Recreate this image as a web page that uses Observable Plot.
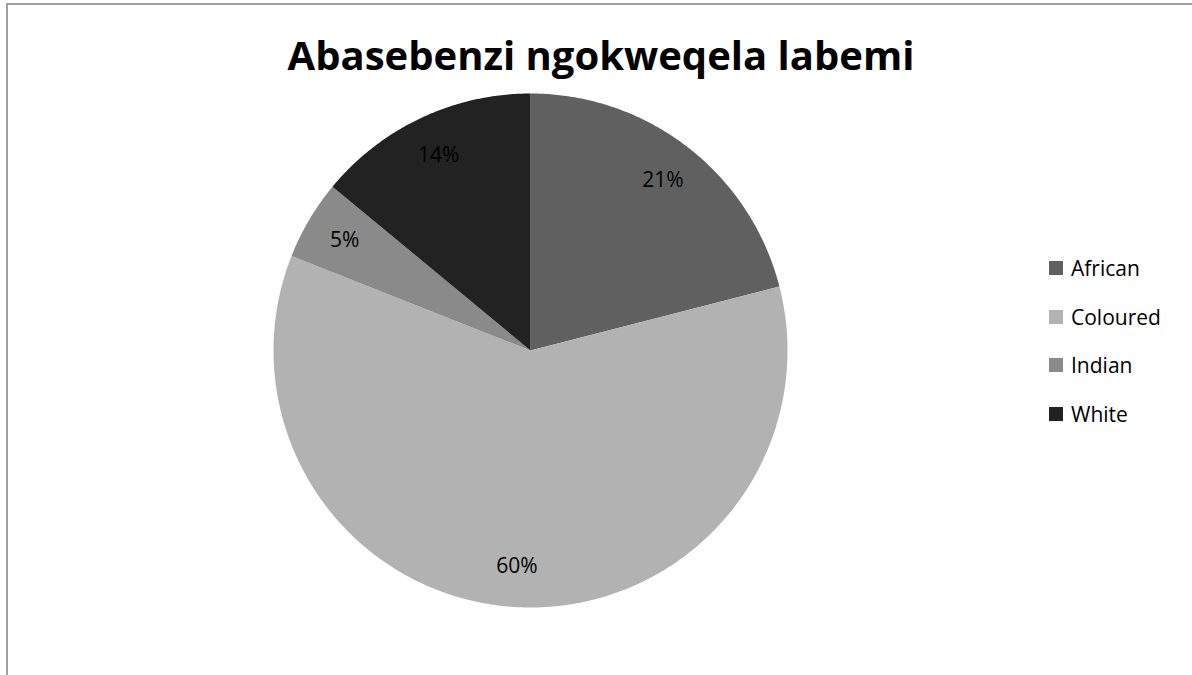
<!DOCTYPE html>
<html>
<head>
<meta charset="utf-8">
<script src="https://cdn.jsdelivr.net/npm/d3@7"></script>
<script src="https://cdn.jsdelivr.net/npm/@observablehq/plot@0.6"></script>
<style>
  html, body { margin: 0; padding: 0; background: #fff; overflow: hidden; }
  #wrap { position: relative; width: 1192px; height: 675px; overflow: hidden; font-family: "Open Sans", "Liberation Sans", sans-serif; }
  #frame { position: absolute; left: 6px; top: 3px; width: 1200px; height: 700px; border: 2px solid #a0a0a0; box-sizing: border-box; }
  #title { position: absolute; left: 6px; width: 1190px; top: 31px; text-align: center; font-weight: 700; font-size: 40px; line-height: 48px; color: #000; }
  #plot { position: absolute; left: 0; top: 0; }
  #legend { position: absolute; left: 1049px; top: 244px; font-size: 21px; color: #000; }
  #legend .row { display: flex; align-items: center; height: 48.5px; }
  #legend .sw { width: 14px; height: 14px; margin-right: 8px; }
</style>
</head>
<body>
<div id="wrap">
  <div id="frame"></div>
  <div id="plot"></div>
  <div id="title"></div>
  <div id="legend"></div>
</div>
<script>
const title = "Abasebenzi ngokweqela labemi";
const categories = ["African", "Coloured", "Indian", "White"];
const shares = [21, 60, 5, 14];
const labels = ["21%", "60%", "5%", "14%"];
const colors = ["#606060", "#b2b2b2", "#8a8a8a", "#222222"];

document.getElementById("title").textContent = title;

// build slice polygons (angles clockwise from top)
const pie = d3.pie().sort(null).value(d => d)(shares);
const polys = [];
const labelPts = [];
pie.forEach((p, i) => {
  const name = categories[i];
  polys.push({name, x: 0, y: 0});
  const steps = Math.max(2, Math.ceil((p.endAngle - p.startAngle) / (Math.PI / 360)));
  for (let s = 0; s <= steps; s++) {
    const a = p.startAngle + (p.endAngle - p.startAngle) * s / steps;
    polys.push({name, x: Math.sin(a), y: Math.cos(a)});
  }
  polys.push({name, x: 0, y: 0});
  const m = (p.startAngle + p.endAngle) / 2;
  labelPts.push({name, label: labels[i], x: 0.84 * Math.sin(m), y: 0.84 * Math.cos(m)});
});

const chart = Plot.plot({
  width: 1192,
  height: 675,
  margin: 0,
  x: {domain: [-1, 1], range: [273, 787], axis: null},
  y: {domain: [-1, 1], range: [607, 93], axis: null},
  color: {domain: categories, range: colors},
  style: {background: "transparent", overflow: "visible"},
  marks: [
    Plot.line(polys, {x: "x", y: "y", z: "name", fill: "name", stroke: null, curve: "linear-closed"}),
    Plot.text(labelPts, {x: "x", y: "y", text: "label", fill: "#000", fontSize: 21, fontFamily: "Open Sans, Liberation Sans, sans-serif"})
  ]
});
document.getElementById("plot").appendChild(chart);

const leg = document.getElementById("legend");
categories.forEach((c, i) => {
  const row = document.createElement("div");
  row.className = "row";
  const sw = document.createElement("div");
  sw.className = "sw";
  sw.style.background = colors[i];
  const t = document.createElement("span");
  t.textContent = c;
  row.appendChild(sw);
  row.appendChild(t);
  leg.appendChild(row);
});
</script>
</body>
</html>
